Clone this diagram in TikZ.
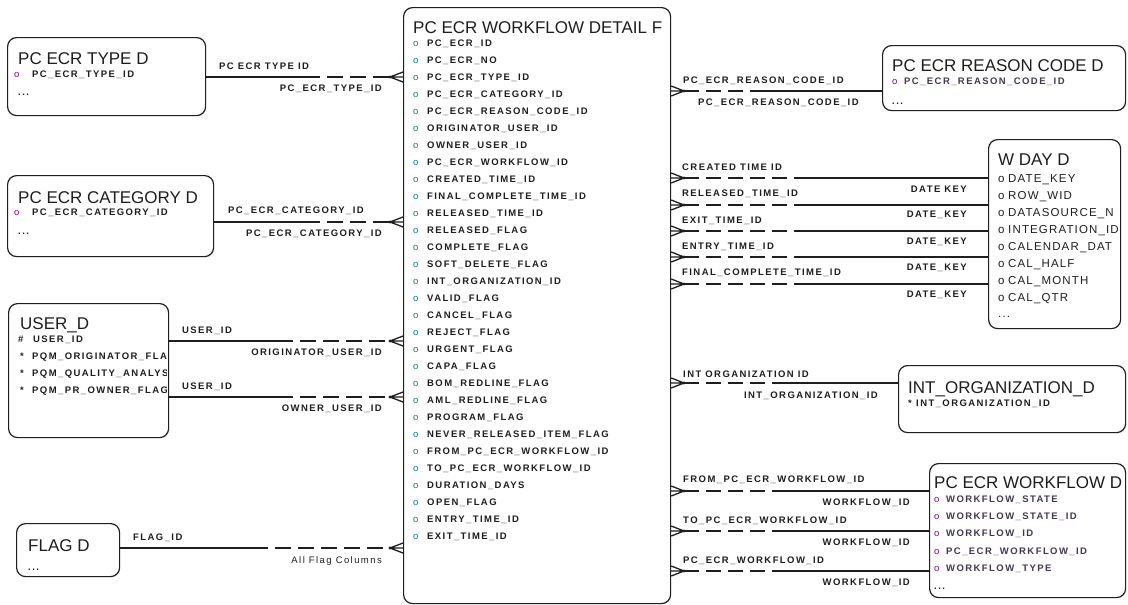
\documentclass[tikz,border=0pt]{standalone}
\usepackage{fontspec}
\setmainfont{Liberation Sans}
\newfontfamily\entf[LetterSpace=15]{Liberation Sans}
\newfontfamily\wdf[LetterSpace=10]{Liberation Sans}
\usetikzlibrary{calc}
\definecolor{lc}{RGB}{30,30,30}
\definecolor{bteal}{RGB}{0,128,128}
\definecolor{bpurp}{RGB}{128,0,128}
\definecolor{pgray}{RGB}{70,55,80}
\newcommand\mbul[2]{\makebox[#2pt][l]{\mdseries\textcolor{#1}{o}}}
\newcommand\ConnL[4]{%
  \coordinate (#4s) at (#3,#2);
  \coordinate (#4v) at (390,#2);
  \draw[conn] (#1.east |- #4s) -- (#4s);
  \draw[conn,dash pattern=on 16pt off 7pt,dash phase=16pt] (#4s) -- (#4v);
  \draw[conn] (#4v) -- (main.west |- #4v)
              (#4v) -- ($(main.west |- #4v)+(0,-5)$)
              (#4v) -- ($(main.west |- #4v)+(0,5)$);
  \fill[lc] (#4v) circle (1.6);
}
\newcommand\ConnR[4]{%
  \coordinate (#4v) at (684,#2);
  \coordinate (#4s) at (#3,#2);
  \draw[conn] (#4v) -- (main.east |- #4v)
              (#4v) -- ($(main.east |- #4v)+(0,-5)$)
              (#4v) -- ($(main.east |- #4v)+(0,5)$);
  \fill[lc] (#4v) circle (1.6);
  \draw[conn,dash pattern=on 15pt off 7pt] (#4v) -- (#4s);
  \draw[conn] (#4s) -- (#1.west |- #4s);
}
\begin{document}
\begin{tikzpicture}[x=1pt,y=-1pt,
  box/.style={draw=lc, line width=1.2pt, rounded corners=9pt, anchor=north west, inner sep=0pt, fill=white},
  ttl/.style={font=\fontsize{17}{20}\selectfont, anchor=base west, inner sep=0pt, text=lc},
  ent/.style={font=\entf\bfseries\fontsize{9.5}{11}\selectfont, anchor=base west, inner sep=0pt, text=lc},
  lblE/.style={ent, anchor=base east},
  wde/.style={font=\wdf\fontsize{11.5}{13}\selectfont, anchor=base west, inner sep=0pt, text=lc},
  conn/.style={draw=lc, line width=1.3pt}]
\useasboundingbox (0,0) rectangle (1128,605);
\fill[white] (0,0) rectangle (1128,605);

% ---------- boxes ----------
\node[box, minimum width=267, minimum height=596] (main) at (403,7) {};
\node[box, minimum width=198, minimum height=78] (typeb) at (7,37) {};
\node[box, minimum width=206, minimum height=81] (catb) at (7,175) {};
\node[box, minimum width=160, minimum height=134] (userb) at (8,303) {};
\node[box, minimum width=103, minimum height=53] (flagb) at (16,523) {};
\node[box, minimum width=243, minimum height=65] (reasb) at (882,45) {};
\node[box, minimum width=132, minimum height=189] (wdayb) at (988,139) {};
\node[box, minimum width=227, minimum height=67] (intb) at (898,365) {};
\node[box, minimum width=196, minimum height=134] (wfb) at (929,463) {};

% ---------- main box ----------
\node[ttl] (mt) at (413,34) {PC ECR WORKFLOW DETAIL F};
\foreach \t [count=\i from 0] in {PC\_ECR\_ID, PC\_ECR\_NO, PC\_ECR\_TYPE\_ID, PC\_ECR\_CATEGORY\_ID,
  PC\_ECR\_REASON\_CODE\_ID, ORIGINATOR\_USER\_ID, OWNER\_USER\_ID, PC\_ECR\_WORKFLOW\_ID,
  CREATED\_TIME\_ID, FINAL\_COMPLETE\_TIME\_ID, RELEASED\_TIME\_ID, RELEASED\_FLAG,
  COMPLETE\_FLAG, SOFT\_DELETE\_FLAG, INT\_ORGANIZATION\_ID, VALID\_FLAG, CANCEL\_FLAG,
  REJECT\_FLAG, URGENT\_FLAG, CAPA\_FLAG, BOM\_REDLINE\_FLAG, AML\_REDLINE\_FLAG,
  PROGRAM\_FLAG, NEVER\_RELEASED\_ITEM\_FLAG, FROM\_PC\_ECR\_WORKFLOW\_ID,
  TO\_PC\_ECR\_WORKFLOW\_ID, DURATION\_DAYS, OPEN\_FLAG, ENTRY\_TIME\_ID, EXIT\_TIME\_ID}
  \node[ent] (me\i) at (413,{46.7+17*\i}) {\mbul{bteal}{14}\t};

% ---------- left boxes ----------
\node[ttl] (tyt) at (18,64) {PC ECR TYPE D};
\node[ent] (tye) at (14,77.4) {\mbul{bpurp}{18}PC\_ECR\_TYPE\_ID};
\node[ent] (tyd) at (18,95) {...};

\node[ttl] (cat) at (18,203) {PC ECR CATEGORY D};
\node[ent] (cae) at (14,215.4) {\mbul{bpurp}{18}PC\_ECR\_CATEGORY\_ID};
\node[ent] (cad) at (18,234) {...};

\node[ttl] (ust) at (20,329) {USER\_D};
\begin{scope}
\clip (0,300) rectangle (166,440);
\node[ent] (us1) at (18,342.4) {\makebox[15pt][l]{\#}USER\_ID};
\node[ent] (us2) at (20,359.4) {\makebox[12pt][l]{*}PQM\_ORIGINATOR\_FLA};
\node[ent] (us3) at (20,376.4) {\makebox[12pt][l]{*}PQM\_QUALITY\_ANALYS};
\node[ent] (us4) at (20,393.4) {\makebox[12pt][l]{*}PQM\_PR\_OWNER\_FLAG};
\end{scope}

\node[ttl] (flt) at (28,551) {FLAG D};
\node[ent] (fld) at (28,570) {...};

% ---------- right boxes ----------
\node[ttl] (rst) at (892,71) {PC ECR REASON CODE D};
\node[ent, text=pgray] (rse) at (892,84.4) {\mbul{bpurp}{12}PC\_ECR\_REASON\_CODE\_ID};
\node[ent] (rsd) at (892,104) {...};

\node[ttl] (wdt) at (998,165) {W DAY D};
\begin{scope}
\clip (980,140) rectangle (1119,330);
\foreach \t [count=\i from 0] in {DATE\_KEY, ROW\_WID, DATASOURCE\_N, INTEGRATION\_ID,
  CALENDAR\_DAT, CAL\_HALF, CAL\_MONTH, CAL\_QTR}
  \node[wde] (wd\i) at (998,{182.1+17*\i}) {\makebox[10pt][l]{o}\t};
\end{scope}
\node[wde] (wdd) at (998,317) {...};

\node[ttl] (int) at (908,393) {INT\_ORGANIZATION\_D};
\node[ent] (ine) at (908,406.4) {\makebox[8pt][l]{*}INT\_ORGANIZATION\_ID};

\node[ttl] (wft) at (934,488) {PC ECR WORKFLOW D};
\foreach \t [count=\i from 0] in {WORKFLOW\_STATE, WORKFLOW\_STATE\_ID, WORKFLOW\_ID,
  PC\_ECR\_WORKFLOW\_ID, WORKFLOW\_TYPE}
  \node[ent, text=pgray] (wf\i) at (934,{502.4+17.2*\i}) {\mbul{bpurp}{12}\t};
\node[ent] (wfd) at (934,589) {...};

% ---------- connectors left ----------
\ConnL{typeb}{77}{320}{cA}
\ConnL{catb}{222}{320}{cB}
\ConnL{userb}{341}{293}{cC}
\ConnL{userb}{397}{293}{cD}
\ConnL{flagb}{548}{268}{cE}

\node[ent] (lA1) at (219,69.4) {PC ECR TYPE ID};
\node[lblE] (lA2) at (382,91.4) {PC\_ECR\_TYPE\_ID};
\node[ent] (lB1) at (228,213.4) {PC\_ECR\_CATEGORY\_ID};
\node[lblE] (lB2) at (382,236.4) {PC\_ECR\_CATEGORY\_ID};
\node[ent] (lC1) at (182,333.4) {USER\_ID};
\node[lblE] (lC2) at (382,355.4) {ORIGINATOR\_USER\_ID};
\node[ent] (lD1) at (182,389.4) {USER\_ID};
\node[lblE] (lD2) at (382,411.4) {OWNER\_USER\_ID};
\node[ent] (lE1) at (133,540.4) {FLAG\_ID};
\node[lblE, font=\entf\fontsize{9.5}{11}\selectfont] (lE2) at (382,563.4) {All Flag Columns};

% ---------- connectors right ----------
\ConnR{reasb}{91}{755}{cF}
\ConnR{wdayb}{178}{803}{cG}
\ConnR{wdayb}{205}{803}{cH}
\ConnR{wdayb}{231}{803}{cI}
\ConnR{wdayb}{257}{803}{cJ}
\ConnR{wdayb}{284}{803}{cK}
\ConnR{intb}{383}{780}{cL}
\ConnR{wfb}{491}{780}{cM}
\ConnR{wfb}{531}{780}{cN}
\ConnR{wfb}{571}{780}{cO}

\node[ent] (lF1) at (683,83.4) {PC\_ECR\_REASON\_CODE\_ID};
\node[ent] (lF2) at (698,105.4) {PC\_ECR\_REASON\_CODE\_ID};

\node[ent] (lG1) at (682,170.4) {CREATED TIME ID};
\node[ent] (lH1) at (682,196.4) {RELEASED\_TIME\_ID};
\node[ent] (lI1) at (682,223.4) {EXIT\_TIME\_ID};
\node[ent] (lJ1) at (682,249.4) {ENTRY\_TIME\_ID};
\node[ent] (lK1) at (682,275.4) {FINAL\_COMPLETE\_TIME\_ID};
\node[lblE] (lG2) at (967,192.4) {DATE KEY};
\node[lblE] (lH2) at (967,217.4) {DATE\_KEY};
\node[lblE] (lI2) at (967,244.4) {DATE\_KEY};
\node[lblE] (lJ2) at (967,270.4) {DATE\_KEY};
\node[lblE] (lK2) at (967,297.4) {DATE\_KEY};

\node[ent] (lL1) at (683,377.4) {INT ORGANIZATION ID};
\node[lblE] (lL2) at (878,398.4) {INT\_ORGANIZATION\_ID};

\node[ent] (lM1) at (683,482.4) {FROM\_PC\_ECR\_WORKFLOW\_ID};
\node[lblE] (lM2) at (910,505.4) {WORKFLOW\_ID};
\node[ent] (lN1) at (683,523.4) {TO\_PC\_ECR\_WORKFLOW\_ID};
\node[lblE] (lN2) at (910,545.4) {WORKFLOW\_ID};
\node[ent] (lO1) at (683,563.4) {PC\_ECR\_WORKFLOW\_ID};
\node[lblE] (lO2) at (910,585.4) {WORKFLOW\_ID};
\end{tikzpicture}
\end{document}
